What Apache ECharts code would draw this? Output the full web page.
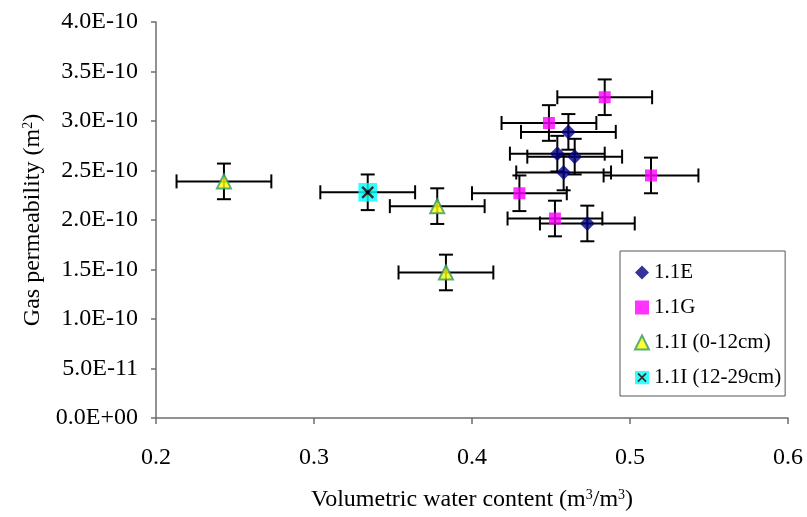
<!DOCTYPE html>
<html>
<head>
<meta charset="utf-8">
<script src="https://cdn.jsdelivr.net/npm/echarts@6/dist/echarts.min.js"></script>
<style>
  html, body { margin: 0; padding: 0; background: #fff; }
  #chart { width: 807px; height: 517px; }
</style>
</head>
<body>
<div id="chart"></div>
<script>
// Значения
const seriesNames = ['1.1E', '1.1G', '1.1I (0-12cm)', '1.1I (12-29cm)'];

const water11E = [0.461, 0.454, 0.465, 0.458, 0.473];
const perm11E = [2.89e-10, 2.67e-10, 2.64e-10, 2.48e-10, 1.965e-10];
const waterErr11E = [0.030, 0.030, 0.030, 0.030, 0.030];
const permErr11E = [1.8e-11, 1.8e-11, 1.8e-11, 1.8e-11, 1.8e-11];

const water11G = [0.430, 0.4525, 0.4487, 0.484, 0.5133];
const perm11G = [2.27e-10, 2.015e-10, 2.98e-10, 3.24e-10, 2.45e-10];
const waterErr11G = [0.030, 0.030, 0.030, 0.030, 0.030];
const permErr11G = [1.8e-11, 1.8e-11, 1.8e-11, 1.8e-11, 1.8e-11];

const water11Itop = [0.243, 0.378, 0.3835];
const perm11Itop = [2.39e-10, 2.14e-10, 1.47e-10];
const waterErr11Itop = [0.030, 0.030, 0.030];
const permErr11Itop = [1.8e-11, 1.8e-11, 1.8e-11];

const water11Ideep = [0.334];
const perm11Ideep = [2.28e-10];
const waterErr11Ideep = [0.030];
const permErr11Ideep = [1.8e-11];

const xTicks = [0.2, 0.3, 0.4, 0.5, 0.6];

const FONT = '"Liberation Serif", "Times New Roman", serif';

// Метка вида 4.0E-10
function sciLabel(v) {
    if (Math.abs(v) < 1e-20) return '0.0E+00';
    const parts = v.toExponential(1).split('e');
    const n = parseInt(parts[1], 10);
    return parts[0] + 'E' + (n < 0 ? '-' : '+') + String(Math.abs(n)).padStart(2, '0');
}

const pairs = (xs, ys) => xs.map((x, i) => [x, ys[i]]);

// Все планки погрешностей в одном списке
const errorRows = [];
[[water11E, perm11E, waterErr11E, permErr11E],
 [water11G, perm11G, waterErr11G, permErr11G],
 [water11Itop, perm11Itop, waterErr11Itop, permErr11Itop],
 [water11Ideep, perm11Ideep, waterErr11Ideep, permErr11Ideep]].forEach(g => {
    g[0].forEach((x, i) => errorRows.push([x, g[1][i], g[2][i], g[3][i]]));
});

const crossSymbol = 'image://data:image/svg+xml;charset=utf-8,' + encodeURIComponent(
    "<svg xmlns='http://www.w3.org/2000/svg' width='19' height='19'>" +
    "<rect width='19' height='19' fill='#00ffff'/>" +
    "<path d='M4 4L15 15M15 4L4 15' stroke='#000' stroke-width='2.4'/></svg>");

function renderErrorBar(params, api) {
    const x = api.value(0), y = api.value(1), ex = api.value(2), ey = api.value(3);
    const l = api.coord([x - ex, y]);
    const r = api.coord([x + ex, y]);
    const t = api.coord([x, y + ey]);
    const b = api.coord([x, y - ey]);
    const cap = 7;
    const style = { stroke: '#000', lineWidth: 2 };
    const line = (x1, y1, x2, y2) => ({ type: 'line', shape: { x1, y1, x2, y2 }, style });
    return {
        type: 'group',
        children: [
            line(l[0], l[1], r[0], r[1]),
            line(l[0], l[1] - cap, l[0], l[1] + cap),
            line(r[0], r[1] - cap, r[0], r[1] + cap),
            line(t[0], t[1], b[0], b[1]),
            line(t[0] - cap, t[1], t[0] + cap, t[1]),
            line(b[0] - cap, b[1], b[0] + cap, b[1])
        ]
    };
}

const chart = echarts.init(document.getElementById('chart'));

const axisGray = '#6e6e6e';

const option = {
    animation: false,
    backgroundColor: '#fff',
    textStyle: { fontFamily: FONT, color: '#000' },
    grid: { left: 156, right: 19, top: 22, bottom: 98 },
    xAxis: {
        type: 'value',
        min: xTicks[0],
        max: xTicks[xTicks.length - 1],
        interval: 0.1,
        splitLine: { show: false },
        axisLine: { lineStyle: { color: axisGray, width: 1.5 } },
        axisTick: { length: 6, lineStyle: { color: axisGray, width: 1.5 } },
        axisLabel: { color: '#000', fontFamily: FONT, fontSize: 24, margin: 28, formatter: v => v.toFixed(1) },
        name: 'Volumetric water content (m{sup|3}/m{sup|3})',
        nameLocation: 'middle',
        nameGap: 70,
        nameTextStyle: {
            color: '#000', fontFamily: FONT, fontSize: 24,
            rich: { sup: { fontFamily: FONT, fontSize: 14, verticalAlign: 'top', color: '#000' } }
        }
    },
    yAxis: {
        type: 'value',
        min: 0,
        max: 4e-10,
        interval: 5e-11,
        splitLine: { show: false },
        axisLine: { lineStyle: { color: axisGray, width: 1.5 } },
        axisTick: { length: 5, lineStyle: { color: axisGray, width: 1.5 } },
        axisLabel: { color: '#000', fontFamily: FONT, fontSize: 24, margin: 18, formatter: sciLabel },
        name: 'Gas permeability (m{sup|2})',
        nameLocation: 'middle',
        nameGap: 100,
        nameTextStyle: {
            color: '#000', fontFamily: FONT, fontSize: 24,
            rich: { sup: { fontFamily: FONT, fontSize: 14, verticalAlign: 'top', color: '#000' } }
        }
    },
    legend: {
        data: seriesNames,
        orient: 'vertical',
        left: 620,
        top: 251,
        padding: [11, 4, 8, 14],
        itemGap: 14,
        itemWidth: 14,
        itemHeight: 14,
        borderColor: '#555',
        borderWidth: 1,
        backgroundColor: '#fff',
        textStyle: { fontFamily: FONT, fontSize: 21, color: '#000', padding: [0, 0, 0, 0] }
    },
    series: [
        {
            type: 'custom',
            name: 'err',
            renderItem: renderErrorBar,
            data: errorRows,
            z: 1,
            silent: true
        },
        {
            type: 'scatter',
            name: seriesNames[0],
            data: pairs(water11E, perm11E),
            symbol: 'diamond',
            symbolSize: 15,
            itemStyle: { color: '#000080' },
            z: 3
        },
        {
            type: 'scatter',
            name: seriesNames[1],
            data: pairs(water11G, perm11G),
            symbol: 'rect',
            symbolSize: 12,
            itemStyle: { color: '#ff00ff' },
            z: 3
        },
        {
            type: 'scatter',
            name: seriesNames[2],
            data: pairs(water11Itop, perm11Itop),
            symbol: 'triangle',
            symbolSize: 14,
            itemStyle: { color: '#ffff00', borderColor: '#339966', borderWidth: 2 },
            z: 3
        },
        {
            type: 'scatter',
            name: seriesNames[3],
            data: pairs(water11Ideep, perm11Ideep),
            symbol: crossSymbol,
            symbolSize: 19,
            z: 3
        }
    ]
};

chart.setOption(option);
</script>
</body>
</html>
